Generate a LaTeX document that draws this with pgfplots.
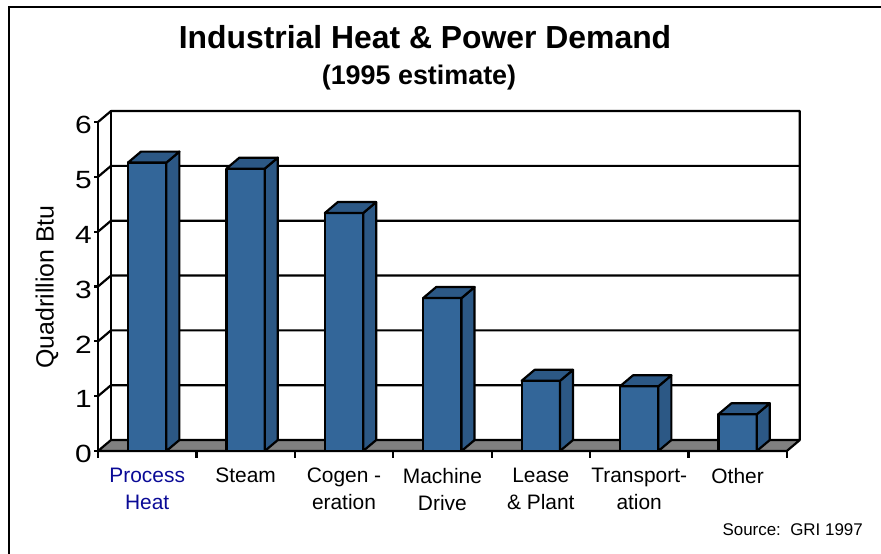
\documentclass[border=0pt]{standalone}
\usepackage{graphicx}
\usepackage{pgfplots}
\pgfplotsset{compat=1.18}
\usepackage{pgfplotstable}
\usepackage{fontspec}
\setmainfont{Liberation Sans}
\definecolor{barfront}{RGB}{51,102,153}
\definecolor{barside}{RGB}{44,88,133}
\definecolor{floorgray}{RGB}{128,128,128}
\definecolor{phblue}{RGB}{10,10,150}

\pgfplotstableread{
x y
0.5 5.26
1.5 5.15
2.5 4.34
3.5 2.79
4.5 1.28
5.5 1.18
6.5 0.67
}\demand

\tikzset{lw/.style={line width=2.2bp}, ynum/.style={anchor=east, inner sep=0pt, font=\fontsize{25}{25}\selectfont, xshift=-6bp, yshift=-3bp},
  cat/.style={anchor=north, align=center, inner sep=0pt, font=\fontsize{21}{27}\selectfont, yshift=-17bp}}

\begin{document}
\begin{tikzpicture}
\path[use as bounding box] (0bp,0bp) rectangle (881bp,554bp);
\draw[lw] (9bp,0bp) -- (9bp,547bp) -- (881bp,547bp);
\begin{axis}[
  at={(98bp,103bp)}, anchor=south west,
  x=98.4bp, y=54.83bp,
  xmin=0, xmax=7, ymin=0, ymax=6,
  clip=false,
  hide axis,
  xtick=\empty, ytick=\empty,
]
% front y axis line and ticks
\addplot[black, lw, mark=none] coordinates {(0,0) (0,6)};
\addplot[black, lw, mark=none] coordinates {(-0.04,0) (0,0)};
\addplot[black, lw, mark=none] coordinates {(-0.04,1) (0,1)};
\addplot[black, lw, mark=none] coordinates {(-0.04,2) (0,2)};
\addplot[black, lw, mark=none] coordinates {(-0.04,3) (0,3)};
\addplot[black, lw, mark=none] coordinates {(-0.04,4) (0,4)};
\addplot[black, lw, mark=none] coordinates {(-0.04,5) (0,5)};
\addplot[black, lw, mark=none] coordinates {(-0.04,6) (0,6)};
% x ticks at category boundaries
\addplot[black, lw, mark=none] coordinates {(0,0) (0,-0.13)};
\addplot[black, lw, mark=none] coordinates {(1,0) (1,-0.13)};
\addplot[black, lw, mark=none] coordinates {(2,0) (2,-0.13)};
\addplot[black, lw, mark=none] coordinates {(3,0) (3,-0.13)};
\addplot[black, lw, mark=none] coordinates {(4,0) (4,-0.13)};
\addplot[black, lw, mark=none] coordinates {(5,0) (5,-0.13)};
\addplot[black, lw, mark=none] coordinates {(6,0) (6,-0.13)};
\addplot[black, lw, mark=none] coordinates {(7,0) (7,-0.13)};
% back wall and gridlines
\addplot[black, lw, mark=none] coordinates {(0.132,0.2) (0.132,6.2)};
\addplot[black, lw, mark=none] coordinates {(0,1) (0.132,1.2) (7.132,1.2)};
\addplot[black, lw, mark=none] coordinates {(0,2) (0.132,2.2) (7.132,2.2)};
\addplot[black, lw, mark=none] coordinates {(0,3) (0.132,3.2) (7.132,3.2)};
\addplot[black, lw, mark=none] coordinates {(0,4) (0.132,4.2) (7.132,4.2)};
\addplot[black, lw, mark=none] coordinates {(0,5) (0.132,5.2) (7.132,5.2)};
\addplot[black, lw, mark=none, line join=round] coordinates {(0,6) (0.132,6.2) (7.132,6.2) (7.132,0.2)};
% floor
\addplot[fill=floorgray, draw=black, lw, mark=none, line join=round] coordinates {(0,0) (7,0) (7.132,0.2) (0.132,0.2)} -- cycle;
% bars
\pgfplotsinvokeforeach{0,...,6}{
  \pgfplotstablegetelem{#1}{x}\of\demand \let\cx\pgfplotsretval
  \pgfplotstablegetelem{#1}{y}\of\demand \let\vv\pgfplotsretval
  \pgfmathsetmacro\xl{\cx-0.195}
  \pgfmathsetmacro\xr{\cx+0.195}
  \pgfmathsetmacro\xbl{\cx-0.195+0.132}
  \pgfmathsetmacro\xbr{\cx+0.195+0.132}
  \pgfmathsetmacro\vt{\vv+0.2}
  \edef\barcmd{%
    \noexpand\addplot[fill=barfront, draw=black, lw, mark=none, line join=round] coordinates {(\xl,0) (\xr,0) (\xr,\vv) (\xl,\vv)} -- cycle;
    \noexpand\addplot[fill=barside, draw=black, lw, mark=none, line join=round] coordinates {(\xr,0) (\xbr,0.2) (\xbr,\vt) (\xr,\vv)} -- cycle;
    \noexpand\addplot[fill=barside, draw=black, lw, mark=none, line join=round] coordinates {(\xl,\vv) (\xr,\vv) (\xbr,\vt) (\xbl,\vt)} -- cycle;
  }\barcmd
}
% y tick labels
\node[ynum] at (axis cs:0,0) {\scalebox{1.2}[1]{0}};
\node[ynum] at (axis cs:0,1) {\scalebox{1.2}[1]{1}};
\node[ynum] at (axis cs:0,2) {\scalebox{1.2}[1]{2}};
\node[ynum] at (axis cs:0,3) {\scalebox{1.2}[1]{3}};
\node[ynum] at (axis cs:0,4) {\scalebox{1.2}[1]{4}};
\node[ynum] at (axis cs:0,5) {\scalebox{1.2}[1]{5}};
\node[ynum] at (axis cs:0,6) {\scalebox{1.2}[1]{6}};
% category labels
\node[cat, text=phblue] at (axis cs:0.5,0) {Process\\Heat};
\node[cat] at (axis cs:1.5,0) {Steam};
\node[cat] at (axis cs:2.5,0) {Cogen -\\eration};
\node[cat] at (axis cs:3.5,0) {Machine\\Drive};
\node[cat] at (axis cs:4.5,0) {Lease\\\& Plant};
\node[cat] at (axis cs:5.5,0) {Transport-\\ation};
\node[cat] at (axis cs:6.5,0) {Other};
\end{axis}
\node[rotate=90, font=\fontsize{25}{25}\selectfont, inner sep=0pt] at (47bp,267bp) {Quadrillion Btu};
\node[anchor=base, font=\bfseries\fontsize{32}{32}\selectfont, inner sep=0pt] at (425bp,505bp) {Industrial Heat \& Power Demand};
\node[anchor=base, font=\bfseries\fontsize{27}{27}\selectfont, inner sep=0pt] at (419bp,469bp) {(1995 estimate)};
\node[anchor=base east, font=\fontsize{17}{17}\selectfont, inner sep=0pt] at (863bp,19bp) {Source:\ \ GRI 1997};
\end{tikzpicture}
\end{document}
